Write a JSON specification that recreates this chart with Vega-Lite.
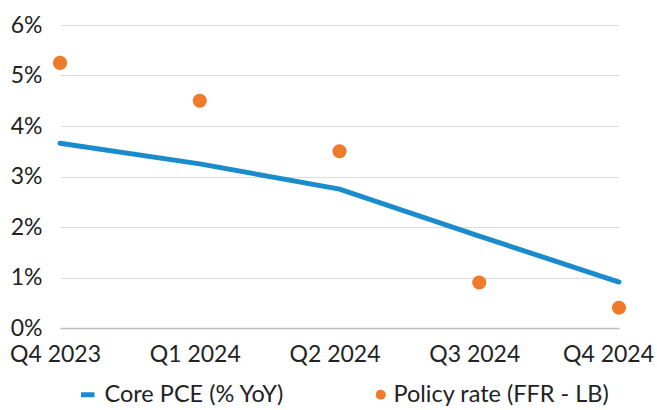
{
  "$schema": "https://vega.github.io/schema/vega-lite/v6.json",
  "width": 559,
  "height": 303,
  "autosize": "none",
  "padding": {"left": 60, "top": 25, "right": 38, "bottom": 82},
  "background": "white",
  "config": {
    "view": {"stroke": null},
    "font": "Lato",
    "axis": {"labelFont": "Lato", "labelFontSize": 23, "labelColor": "#222222", "ticks": false, "title": null},
    "legend": {"labelFont": "Lato", "labelFontSize": 23.5, "labelColor": "#222222", "labelLimit": 400}
  },
  "data": {"values": [
    {"q": "Q4 2023", "series": "Core PCE (% YoY)", "v": 3.66},
    {"q": "Q1 2024", "series": "Core PCE (% YoY)", "v": 3.25},
    {"q": "Q2 2024", "series": "Core PCE (% YoY)", "v": 2.75},
    {"q": "Q3 2024", "series": "Core PCE (% YoY)", "v": 1.82},
    {"q": "Q4 2024", "series": "Core PCE (% YoY)", "v": 0.91},
    {"q": "Q4 2023", "series": "Policy rate (FFR - LB)", "v": 5.25},
    {"q": "Q1 2024", "series": "Policy rate (FFR - LB)", "v": 4.5},
    {"q": "Q2 2024", "series": "Policy rate (FFR - LB)", "v": 3.5},
    {"q": "Q3 2024", "series": "Policy rate (FFR - LB)", "v": 0.9},
    {"q": "Q4 2024", "series": "Policy rate (FFR - LB)", "v": 0.4}
  ]},
  "encoding": {
    "x": {"field": "q", "type": "ordinal", "sort": null,
      "scale": {"type": "point", "padding": 0},
      "axis": {"labelAngle": 0, "labelPadding": 15, "labelOverlap": false, "labelBound": false, "domain": true, "domainColor": "#bdbdbd", "domainWidth": 1.5, "grid": false,
        "labelOffset": {"condition": {"test": "datum.value == 'Q4 2024'", "value": -11}, "value": -5}}},
    "y": {"field": "v", "type": "quantitative",
      "scale": {"domain": [0, 6]},
      "axis": {"values": [0,1,2,3,4,5,6], "format": ".0f", "labelExpr": "datum.value + '%'", "domain": false, "grid": true, "gridColor": "#dcdcdc", "gridWidth": 1.2, "labelPadding": 18, "labelDy": -3}}
  },
  "layer": [
    {"transform": [{"filter": "datum.series == 'Core PCE (% YoY)'"}],
     "mark": {"type": "line", "strokeWidth": 5, "strokeCap": "round"},
     "encoding": {"color": {"field": "series", "type": "nominal",
        "scale": {"range": ["#1a8ccc"]},
        "legend": {"orient": "none", "legendX": 16, "legendY": 358, "title": null, "symbolType": "stroke", "symbolStrokeWidth": 5, "symbolSize": 180, "labelOffset": 5}}}},
    {"transform": [{"filter": "datum.series == 'Policy rate (FFR - LB)'"}],
     "mark": {"type": "circle", "size": 200, "opacity": 1},
     "encoding": {"color": {"field": "series", "type": "nominal",
        "scale": {"range": ["#ef7a2b"]},
        "legend": {"orient": "none", "legendX": 309, "legendY": 358, "title": null, "symbolType": "circle", "symbolSize": 100, "labelOffset": 1}}}}
  ],
  "resolve": {"scale": {"color": "independent"}, "legend": {"color": "independent"}}
}
